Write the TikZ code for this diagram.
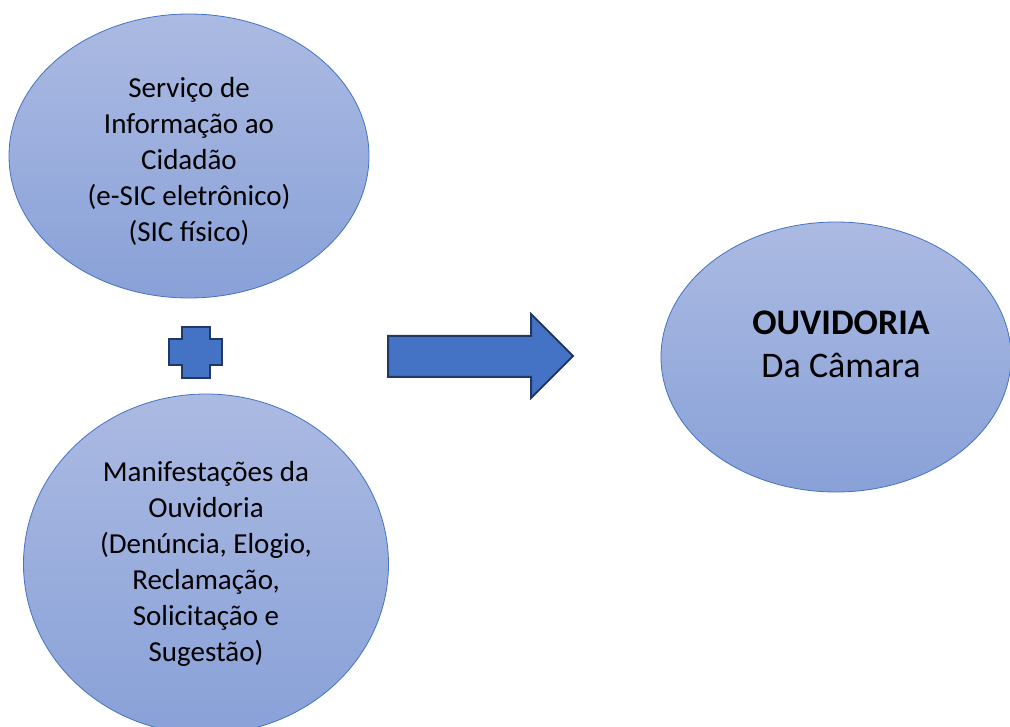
\documentclass[tikz,border=0pt]{standalone}
\usepackage{fontspec}
\setmainfont{Carlito}
\usetikzlibrary{shapes.geometric}

\definecolor{ouvtop}{RGB}{171,186,226}
\definecolor{ouvbottom}{RGB}{137,161,216}
\definecolor{ouvline}{RGB}{68,114,196}
\definecolor{ouvblue}{RGB}{68,114,196}
\definecolor{ouvdark}{RGB}{32,56,100}

\begin{document}
\begin{tikzpicture}[x=1pt,y=-1pt,
  bubble/.style={ellipse,draw=ouvline,line width=0.8pt,top color=ouvtop,bottom color=ouvbottom,inner sep=0pt},
  bubbletext/.style={align=center,font=\fontsize{29}{36}\selectfont},
  block/.style={fill=ouvblue,draw=ouvdark,line width=2pt,line join=miter}]
  \useasboundingbox (0,0) rectangle (1010,727);
  \clip (0,0) rectangle (1010,727);

  % the three bubbles
  \node[bubble, minimum width=360, minimum height=284] (sic) at (189,156) {};
  \node[bubble, minimum width=365, minimum height=340] (manif) at (206,564) {};
  \node[bubble, minimum width=350, minimum height=270] (ouv) at (836,357) {};

  \node[bubbletext] (sictext) at (189,161) {Serviço de\\Informação ao\\Cidadão\\(e-SIC eletrônico)\\(SIC físico)};
  \node[bubbletext] (maniftext) at (206,564) {Manifestações da\\Ouvidoria\\(Denúncia, Elogio,\\Reclamação,\\Solicitação e\\Sugestão)};
  \node[bubbletext, font=\fontsize{36}{43}\selectfont] (ouvtext) at (841,344) {\textbf{OUVIDORIA}\\Da Câmara};

  % plus sign and big arrow
  \draw[block] (182,327) -- (210,327) -- (210,339) -- (222,339) -- (222,365) -- (210,365)
    -- (210,378) -- (182,378) -- (182,365) -- (169,365) -- (169,339) -- (182,339) -- cycle;
  \draw[block] (388,336) -- (531,336) -- (531,314) -- (573,356) -- (531,398) -- (531,377)
    -- (388,377) -- cycle;
\end{tikzpicture}
\end{document}
